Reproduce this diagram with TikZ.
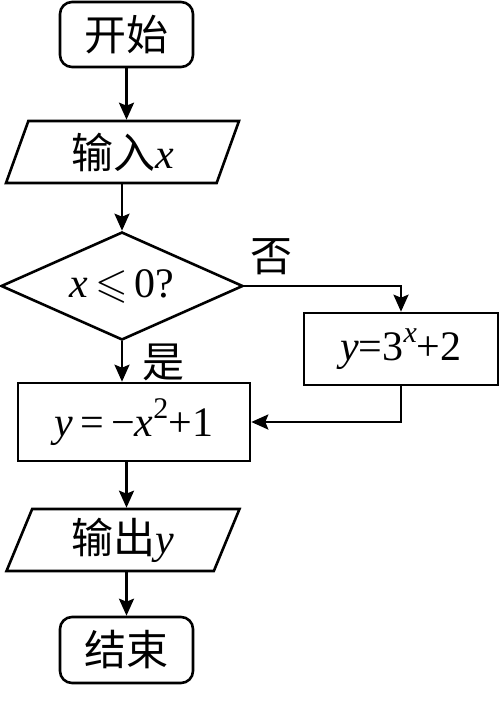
\documentclass[tikz,border=0pt]{standalone}
\usepackage{fontspec}
\usepackage{amssymb}
\setmainfont{Liberation Serif}
\newfontfamily\cjk{Noto Sans CJK SC}
\newcommand\zh[1]{{\cjk\fontsize{42}{44}\selectfont #1}}
\newcommand\supr[1]{\raisebox{0.42em}{\fontsize{30}{32}\selectfont #1}}
\usetikzlibrary{shapes.geometric,arrows.meta}
\begin{document}
\begin{tikzpicture}[x=1pt,y=-1pt,
  line width=2.6pt,
  base/.style={draw,inner sep=0pt,font=\fontsize{42}{46}\selectfont},
  term/.style={base,rectangle,rounded corners=12pt,minimum width=133pt,minimum height=65pt},
  io/.style={base,trapezium,trapezium left angle=60,trapezium right angle=120,trapezium stretches body,minimum width=233pt,minimum height=62pt},
  proc/.style={base,rectangle},
  decision/.style={base,diamond,aspect=2.24,minimum width=242pt,minimum height=108pt},
  lab/.style={inner sep=0pt,font=\fontsize{42}{46}\selectfont},
  arr/.style={-{Stealth[length=17pt,width=15pt,inset=3pt]}},
]
\fill[white] (0,0) rectangle (500,710);
\useasboundingbox (0,0) rectangle (500,710);

\node[term] (start) at (126.5,34.5) {\zh{开始}};
\node[io] (in) at (122.5,152) {\zh{输入}\textit{x}};
\node[decision] (dec) at (122,286) {\textit{x}\,$\leqslant$\,0?};
\node[proc,minimum width=194pt,minimum height=72pt] (f2) at (401,349) {\textit{y}=3\supr{\textit{x}}+2};
\node[proc,minimum width=232pt,minimum height=78pt] (f1) at (134,422) {\textit{y}\,=\,−\textit{x}\supr{2}+1};
\node[io] (out) at (123,540) {\zh{输出}\textit{y}};
\node[term,minimum height=66pt] (end) at (126.5,650) {\zh{结束}};

\node[lab] (no) at (271,257) {\zh{否}};
\node[lab] (yes) at (163,362) {\zh{是}};

\draw[arr] (start.south) -- (start.south |- in.north);
\draw[arr] (dec.north |- in.south) -- (dec.north);
\draw[arr] (dec.east) -| (f2.north);
\draw[arr] (dec.south) -- (dec.south |- f1.north);
\draw[arr] (f2.south) |- (f1.east);
\draw[arr] (end.north |- f1.south) -- (end.north |- out.north);
\draw[arr] (out.south -| end.north) -- (end.north);
\end{tikzpicture}
\end{document}
